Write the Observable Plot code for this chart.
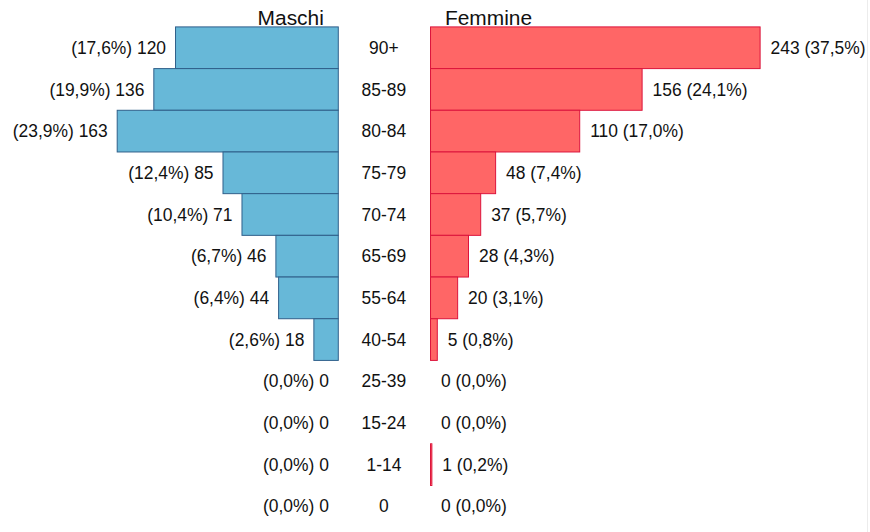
<!DOCTYPE html>
<html>
<head>
<meta charset="utf-8">
<script src="https://cdn.jsdelivr.net/npm/d3@7"></script>
<script src="https://cdn.jsdelivr.net/npm/@observablehq/plot@0.6"></script>
<style>
  html, body { margin: 0; padding: 0; background: #fff; }
  #wrap { width: 867px; height: 532px; border-right: 1px solid #ececec; position: relative; overflow: hidden; }
  svg { display: block; }
</style>
</head>
<body>
<div id="wrap"></div>
<script>
const ages = ["90+", "85-89", "80-84", "75-79", "70-74", "65-69", "55-64", "40-54", "25-39", "15-24", "1-14", "0"];
const maschi = [120, 136, 163, 85, 71, 46, 44, 18, 0, 0, 0, 0];
const femmine = [243, 156, 110, 48, 37, 28, 20, 5, 0, 0, 1, 0];
const titles = ["Maschi", "Femmine"];

const totM = d3.sum(maschi), totF = d3.sum(femmine);
const pct = (v, t) => (v / t * 100).toFixed(1).replace(".", ",") + "%";

const G = 34.0; // half-gap for the centre labels, in value units
const rows = ages.map((a, i) => ({age: a, m: maschi[i], f: femmine[i]}));

const font = "Liberation Sans, Arial, sans-serif";

const chart = Plot.plot({
  width: 870,
  height: 532,
  marginLeft: 0,
  marginRight: 0,
  marginTop: 27,
  marginBottom: 3,
  style: {fontFamily: font, background: "transparent", overflow: "visible"},
  x: {domain: [-283.4, 355.8], axis: null},
  y: {domain: ages, padding: 0, round: false, axis: null},
  marks: [
    Plot.barX(rows.filter(d => d.m > 0), {
      x1: d => -G - d.m, x2: -G, y: "age",
      fill: "#67b8d8", stroke: "#2f5f8a", strokeWidth: 1
    }),
    Plot.barX(rows.filter(d => d.f > 0), {
      x1: G, x2: d => G + d.f, y: "age",
      fill: "#ff6666", stroke: "#dc143c", strokeWidth: 1
    }),
    Plot.text(rows, {
      x: d => -G - d.m, y: "age", text: d => `(${pct(d.m, totM)}) ${d.m}`,
      textAnchor: "end", dx: -10, fontSize: 17.5, fill: "#111"
    }),
    Plot.text(rows, {
      x: d => G + d.f, y: "age", text: d => `${d.f} (${pct(d.f, totF)})`,
      textAnchor: "start", dx: 10, fontSize: 17.5, fill: "#111"
    }),
    Plot.text(rows, {
      x: 0, y: "age", text: "age", textAnchor: "middle", dx: -1, fontSize: 17.5, fill: "#111"
    }),
    Plot.text([titles[0]], {
      frameAnchor: "top", x: -G, text: d => d, textAnchor: "end",
      dx: -15, dy: -9, lineAnchor: "middle", fontSize: 21, fill: "#111"
    }),
    Plot.text([titles[1]], {
      frameAnchor: "top", x: G, text: d => d, textAnchor: "start",
      dx: 14, dy: -9, lineAnchor: "middle", fontSize: 21, fill: "#111"
    })
  ]
});
document.getElementById("wrap").appendChild(chart);
</script>
</body>
</html>
